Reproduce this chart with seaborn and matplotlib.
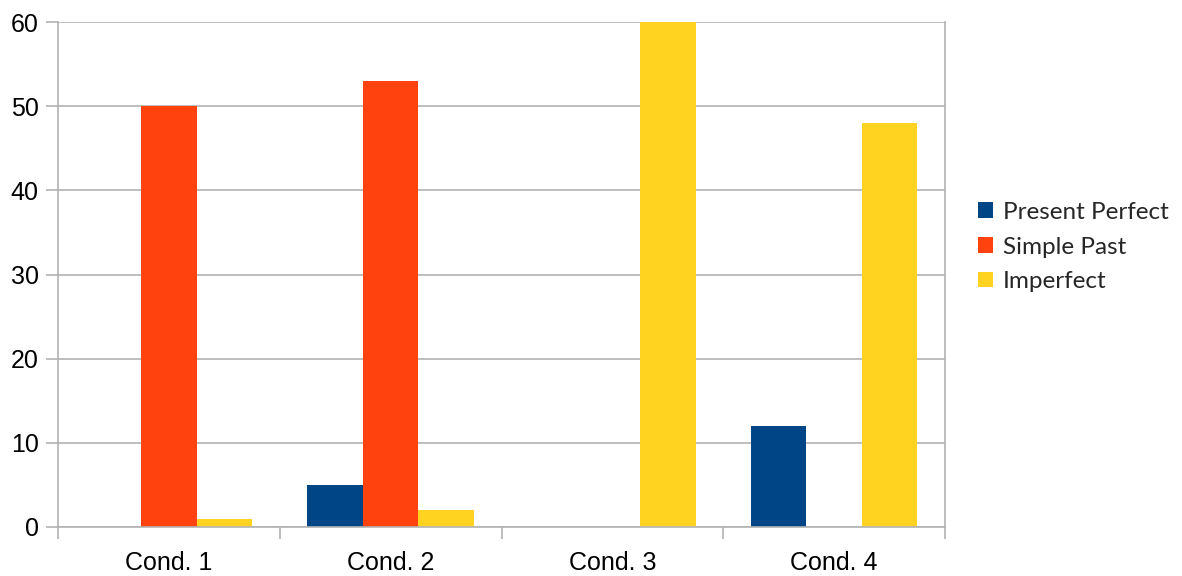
import matplotlib
matplotlib.use("Agg")
import matplotlib.pyplot as plt
from matplotlib.patches import Patch
from matplotlib.ticker import FixedLocator, MultipleLocator
import seaborn as sns
import pandas as pd

# Counts of tense forms per condition
conditions = ["Cond. 1", "Cond. 2", "Cond. 3", "Cond. 4"]
series_names = ["Present Perfect", "Simple Past", "Imperfect"]
present_perfect = [0, 5, 0, 12]
simple_past = [50, 53, 0, 0]
imperfect = [1, 2, 60, 48]
colors = ["#004586", "#ff420e", "#ffd320"]

df = pd.DataFrame({
    "condition": conditions * 3,
    "tense": [s for s in series_names for _ in conditions],
    "count": present_perfect + simple_past + imperfect,
})

sns.set_theme(style="white")
plt.rcParams["font.family"] = ["Liberation Sans", "DejaVu Sans"]

fig = plt.figure(figsize=(11.82, 5.76), dpi=100)
ax = fig.add_axes([58 / 1182, 49 / 576, (945 - 58) / 1182, (527 - 22) / 576])

sns.barplot(data=df, x="condition", y="count", hue="tense",
            hue_order=series_names, palette=colors, width=0.75,
            saturation=1, linewidth=0, ax=ax, legend=False)

grid_c = "#b3b3b3"
ax.set_xlim(-0.5, len(conditions) - 0.5)
ax.set_ylim(0, 60)
ax.yaxis.set_major_locator(MultipleLocator(10))
ax.yaxis.grid(True, color=grid_c, linewidth=1.2)
ax.set_axisbelow(True)
ax.set_xlabel("")
ax.set_ylabel("")

for side in ["left", "right", "bottom"]:
    ax.spines[side].set_color(grid_c)
    ax.spines[side].set_linewidth(1.2)
ax.spines["top"].set_visible(False)

ax.tick_params(axis="y", which="major", length=8.5, width=1.2, color=grid_c,
               labelsize=18, pad=5.5, left=True, labelcolor="black")
ax.tick_params(axis="x", which="major", length=0, labelsize=18, pad=17,
               labelcolor="black")
ax.xaxis.set_minor_locator(FixedLocator([i - 0.5 for i in range(len(conditions) + 1)]))
ax.tick_params(axis="x", which="minor", length=8.5, width=1.2, color=grid_c,
               bottom=True)

handles = [Patch(facecolor=c, edgecolor="none") for c in colors]
fig.legend(handles, series_names, loc="center left",
           bbox_to_anchor=(978 / 1182, 1 - 247 / 576), frameon=False,
           prop={"family": "Lato", "size": 17.5}, handlelength=0.62,
           handleheight=0.62, handletextpad=0.4, labelspacing=0.56,
           borderaxespad=0, borderpad=0)

fig.savefig("out.png", dpi=100, facecolor="white")
